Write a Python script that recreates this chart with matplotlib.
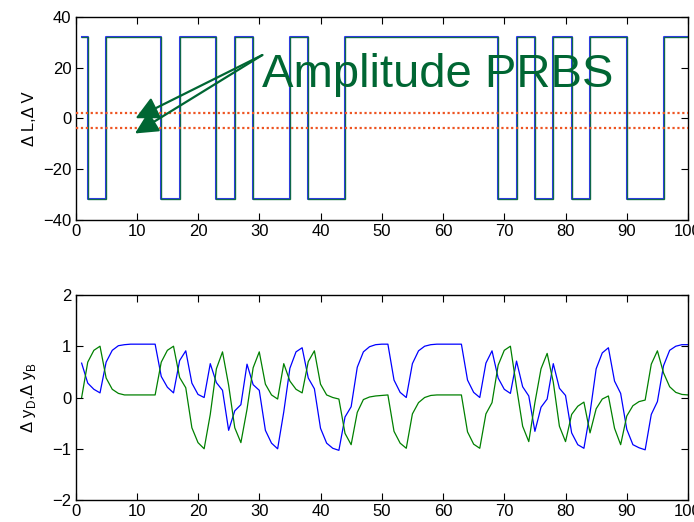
import numpy as np
import matplotlib
matplotlib.use("Agg")
import matplotlib.pyplot as plt

plt.rcParams['font.family'] = ['Liberation Sans', 'DejaVu Sans']

# ---- data ----
t = np.arange(1, 101)
# PRBS switching times (input goes high at rise times, low at drop times)
prbs_high = 32.0
prbs_low = -31.6
prbs_rise = [1, 5, 17, 26, 35, 44, 72, 78, 84, 96]
prbs_drop = [2, 14, 23, 29, 38, 69, 75, 81, 90]
ref_lines = [2.0, -3.7]

yD = [0.67, 0.28, 0.16, 0.09, 0.69, 0.92, 1.01, 1.03, 1.04, 1.04,
      1.04, 1.04, 1.04, 0.41, 0.20, 0.09, 0.72, 0.91, 0.28, 0.06,
      0.00, 0.66, 0.29, 0.14, -0.64, -0.26, -0.14, 0.65, 0.25, 0.14,
      -0.64, -0.89, -1.00, -0.28, 0.57, 0.89, 0.97, 0.38, 0.17, -0.60,
      -0.89, -0.99, -1.03, -0.38, -0.18, 0.59, 0.89, 0.99, 1.03, 1.04,
      1.04, 0.34, 0.10, 0.00, 0.66, 0.91, 1.00, 1.03, 1.04, 1.04,
      1.04, 1.04, 1.04, 0.34, 0.10, 0.00, 0.67, 0.91, 0.38, 0.16,
      0.08, 0.71, 0.21, 0.03, -0.66, -0.19, -0.03, 0.66, 0.18, 0.04,
      -0.69, -0.92, -0.99, -0.30, 0.56, 0.87, 0.97, 0.32, 0.08, -0.62,
      -0.92, -0.98, -1.02, -0.33, -0.08, 0.62, 0.92, 1.00, 1.03, 1.03]

yB = [0.00, 0.69, 0.92, 1.00, 0.38, 0.16, 0.08, 0.05, 0.05, 0.05,
      0.05, 0.05, 0.05, 0.69, 0.92, 1.00, 0.39, 0.19, -0.59, -0.88,
      -1.00, -0.33, 0.56, 0.89, 0.24, -0.59, -0.88, -0.23, 0.58, 0.89,
      0.26, 0.05, -0.03, 0.66, 0.32, 0.16, 0.09, 0.70, 0.91, 0.26,
      0.05, 0.00, -0.03, -0.70, -0.92, -0.29, -0.04, 0.01, 0.03, 0.04,
      0.05, -0.66, -0.89, -0.99, -0.32, -0.10, 0.00, 0.04, 0.05, 0.05,
      0.05, 0.05, 0.05, -0.67, -0.91, -0.99, -0.32, -0.10, 0.63, 0.92,
      1.00, 0.20, -0.56, -0.86, -0.10, 0.56, 0.86, 0.30, -0.56, -0.86,
      -0.33, -0.17, -0.09, -0.69, -0.22, -0.03, 0.03, -0.60, -0.92, -0.36,
      -0.16, -0.08, -0.05, 0.65, 0.91, 0.48, 0.21, 0.10, 0.06, 0.05]

# build PRBS level sequence from switching times
events = sorted([(r, prbs_high) for r in prbs_rise] + [(d, prbs_low) for d in prbs_drop])
u = np.zeros(len(t))
for i, ti in enumerate(t):
    lvl = prbs_high
    for et, ev in events:
        if ti >= et:
            lvl = ev
    u[i] = lvl

fig = plt.figure(figsize=(6.94, 5.22), dpi=100)
ax1 = fig.add_axes([0.1088, 0.5785, 0.8826, 0.389])
ax2 = fig.add_axes([0.1088, 0.042, 0.8826, 0.393])

dark_green = '#006633'
red = '#ee5522'

ax1.plot(t, u, drawstyle='steps-post', color=(0.2, 0.2, 1.0), lw=1.5, zorder=2)
ax1.plot(t, u, drawstyle='steps-post', color=(0, 0.5, 0), lw=1.0, alpha=0.7, zorder=3)
for yl in ref_lines:
    ax1.axhline(yl, color=red, lw=1.6, ls=(0, (1, 1.2)), zorder=4)

ax1.text(30.5, 12.3, 'Amplitude PRBS', color=dark_green, fontsize=34,
         va='baseline', ha='left', zorder=6)
for tip in [(9.8, 0.1), (9.7, -5.9)]:
    ax1.annotate('', xy=tip, xytext=(30.5, 25.0), zorder=6,
                 arrowprops=dict(arrowstyle='-|>,head_length=0.7,head_width=0.35',
                                 mutation_scale=20, color=dark_green, lw=1.6,
                                 shrinkA=0, shrinkB=0))

ax1.set_xlim(0, 100)
ax1.set_ylim(-40, 40)
ax1.set_xticks(np.arange(0, 101, 10))
ax1.set_yticks(np.arange(-40, 41, 20))
ax1.set_ylabel('Δ L,Δ V', fontsize=12, labelpad=4)

ax2.plot(t, yD, color=(0, 0, 1), lw=0.9)
ax2.plot(t, yB, color=(0, 0.5, 0), lw=0.9)
ax2.set_xlim(0, 100)
ax2.set_ylim(-2, 2)
ax2.set_xticks(np.arange(0, 101, 10))
ax2.set_yticks(np.arange(-2, 3, 1))
ax2.set_ylabel(r'Δ y$_{\mathregular{D}}$,Δ y$_{\mathregular{B}}$', fontsize=12, labelpad=10)

for ax in (ax1, ax2):
    ax.tick_params(direction='in', top=True, right=True, length=5, width=0.8,
                   labelsize=12, pad=3)
    for s in ax.spines.values():
        s.set_linewidth(1.0)

fig.savefig('out.png', dpi=100)
